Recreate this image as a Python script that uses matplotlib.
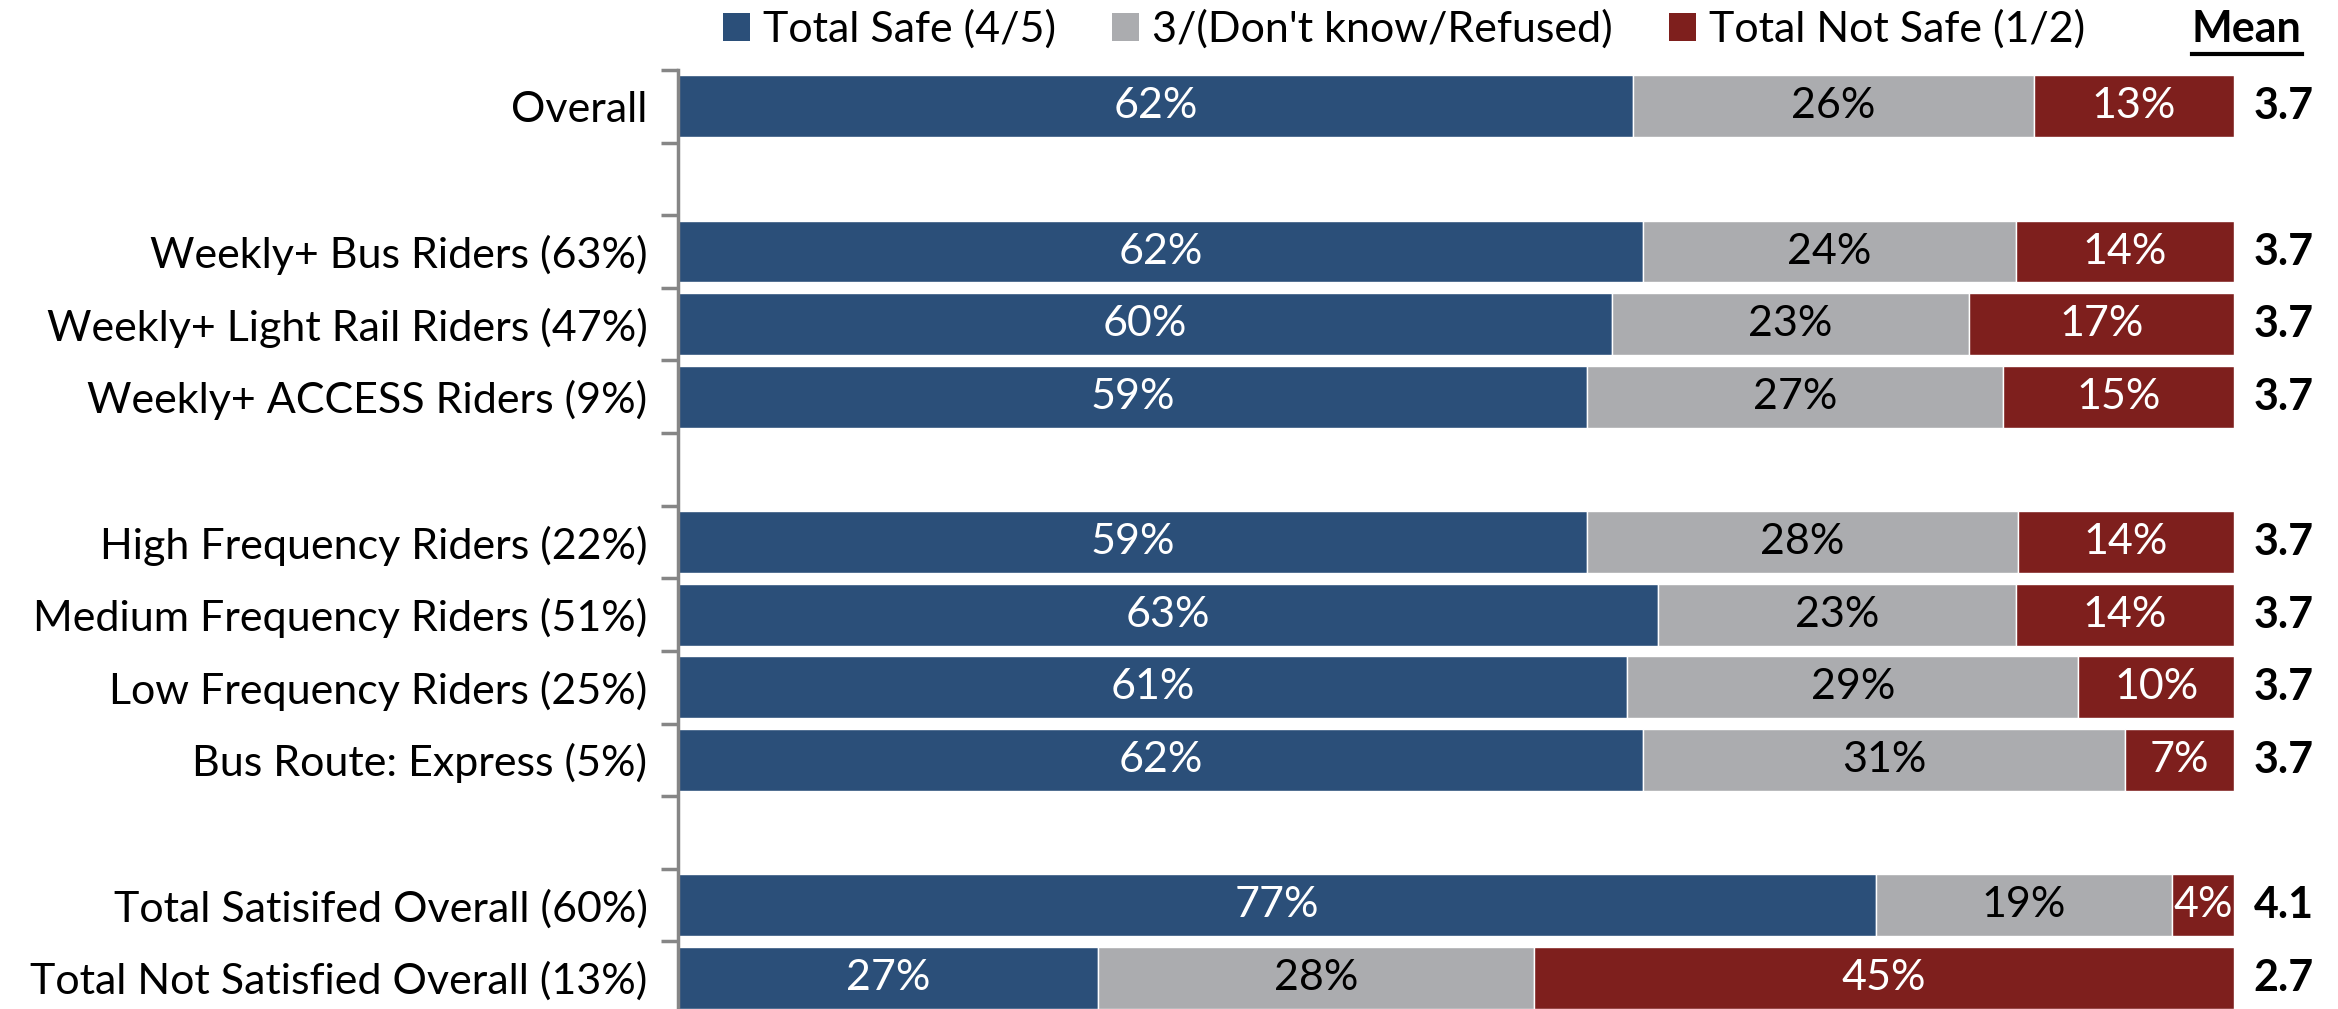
import matplotlib
matplotlib.use('Agg')
import matplotlib.pyplot as plt
import numpy as np
from matplotlib.patches import Patch
from matplotlib.lines import Line2D

plt.rcParams['font.family'] = ['Lato', 'DejaVu Sans']

# Survey results: share rating safety 4/5, 3 / DK / refused, 1/2
categories = ['Overall',
              'Weekly+ Bus Riders (63%)', 'Weekly+ Light Rail Riders (47%)', 'Weekly+ ACCESS Riders (9%)',
              'High Frequency Riders (22%)', 'Medium Frequency Riders (51%)',
              'Low Frequency Riders (25%)', 'Bus Route: Express (5%)',
              'Total Satisifed Overall (60%)', 'Total Not Satisfied Overall (13%)']
group_sizes = [1, 3, 4, 2]
safe = [62, 62, 60, 59, 59, 63, 61, 62, 77, 27]
neutral = [26, 24, 23, 27, 28, 23, 29, 31, 19, 28]
not_safe = [13, 14, 17, 15, 14, 14, 10, 7, 4, 45]
means = [3.7, 3.7, 3.7, 3.7, 3.7, 3.7, 3.7, 3.7, 4.1, 2.7]
series_names = ['Total Safe (4/5)', "3/(Don't know/Refused)", 'Total Not Safe (1/2)']
colors = ['#2B4F79', '#ABACAF', '#7E1F1D']
text_colors = ['white', 'black', 'white']

FS = 31

# row positions with a blank row between groups
rows = []
pos = 0
for g in group_sizes:
    rows.extend(range(pos, pos + g))
    pos += g + 1
n_slots = pos - 1
rows = np.array(rows)

vals = np.array([safe, neutral, not_safe], dtype=float)
shares = vals / vals.sum(axis=0) * 100

fig = plt.figure(figsize=(23.38, 10.09), dpi=100)
ax = fig.add_axes([0.29, -0.005, 0.6655, 0.9356])

left = np.zeros(len(categories))
for i in range(3):
    ax.barh(rows, shares[i], left=left, height=0.85, color=colors[i],
            edgecolor='white', linewidth=1)
    for r, l, w, v in zip(rows, left, shares[i], vals[i]):
        ax.text(l + w / 2, r, f'{v:.0f}%', ha='center', va='center',
                color=text_colors[i], fontsize=FS)
    left += shares[i]

for r, m in zip(rows, means):
    ax.text(1.032, r, f'{m:.1f}', transform=ax.get_yaxis_transform(),
            ha='center', va='center', fontsize=FS, fontweight='bold')

ax.set_xlim(0, 100)
ax.set_ylim(n_slots - 0.5, -0.5)
ax.set_yticks(rows)
ax.set_yticklabels(categories, fontsize=FS)
ax.set_yticks(np.arange(-0.5, n_slots, 1.0), minor=True)
ax.tick_params(axis='y', which='major', length=0, pad=22)
ax.tick_params(axis='y', which='minor', length=12, width=2.5, color='#868686')
ax.set_xticks([])
for s in ['top', 'right', 'bottom']:
    ax.spines[s].set_visible(False)
ax.spines['left'].set_color('#868686')
ax.spines['left'].set_linewidth(2.5)

handles = [Patch(facecolor=c) for c in colors]
fig.legend(handles, series_names, loc='center', bbox_to_anchor=(0.6005, 0.971),
           ncol=3, frameon=False, fontsize=FS, handlelength=0.63, handleheight=0.63,
           handletextpad=0.3, columnspacing=1.3, borderaxespad=0)

mean_txt = fig.text(0.961, 0.971, 'Mean', ha='center', va='center',
                    fontsize=FS, fontweight='bold')
fig.canvas.draw()
bb = mean_txt.get_window_extent().transformed(fig.transFigure.inverted())
fig.add_artist(Line2D([bb.x0, bb.x1], [bb.y0 - 0.005, bb.y0 - 0.005],
                      transform=fig.transFigure, color='black', linewidth=3))

fig.savefig('out.png', dpi=100)
